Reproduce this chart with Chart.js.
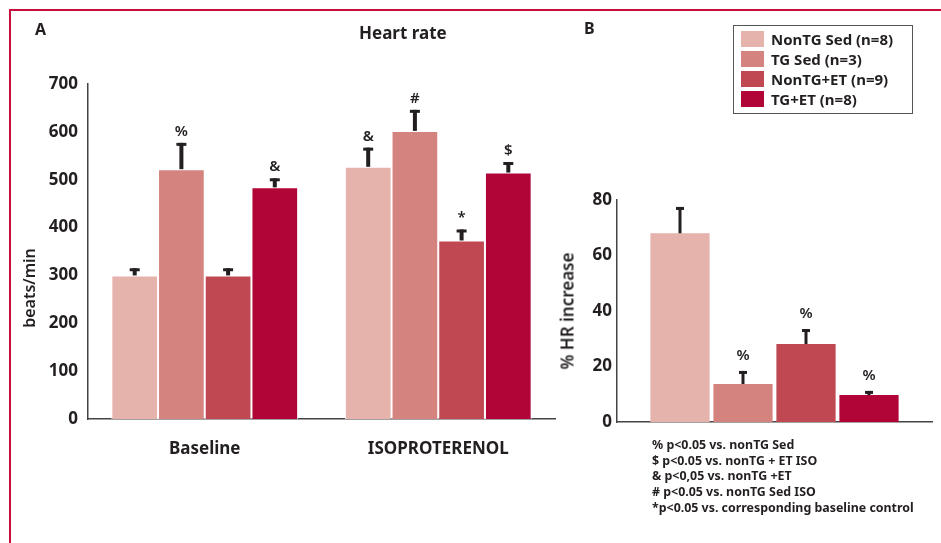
<!DOCTYPE html>
<html lang="en">
<head>
<meta charset="utf-8">
<title>Heart rate</title>
<script src="https://cdn.jsdelivr.net/npm/chart.js@4.4.1/dist/chart.umd.min.js"></script>
<style>
    body { margin: 0; background: #fff; font-family: "Noto Sans", "DejaVu Sans", sans-serif; color: #231f20; }
    #wrap { position: relative; width: 941px; height: 543px; overflow: hidden; }
    canvas { position: absolute; top: 0; }
    #chart-a { left: 0; }
    #chart-b { left: 560px; }
    .frame { position: absolute; background: #c8103e; }
    .lbl { position: absolute; font-weight: 700; white-space: nowrap; }
    .rot { position: absolute; white-space: nowrap; font-weight: 600; transform: translate(-50%, -50%) rotate(-90deg); }
    #legend { position: absolute; left: 733px; top: 25px; width: 178px; height: 87px; border: 1.5px solid #555; }
    #legend div { position: absolute; left: 7px; height: 16px; line-height: 16px; font-weight: 700; font-size: 15px; white-space: nowrap; }
    #legend span { display: inline-block; width: 23px; height: 16px; vertical-align: top; margin-right: 7px; }
    #notes { position: absolute; left: 652px; top: 437px; font-size: 12.4px; line-height: 15.7px; font-weight: 700; }
</style>
</head>
<body>
<div id="wrap">
    <div class="frame" style="left:9px; top:9px; width:932px; height:2px"></div>
    <div class="frame" style="left:9px; top:9px; width:2px; height:534px"></div>

    <canvas id="chart-a" width="560" height="543"></canvas>
    <canvas id="chart-b" width="381" height="543"></canvas>

    <div class="lbl" style="left:35px; top:18px; font-size:16px">A</div>
    <div class="lbl" style="left:584px; top:17px; font-size:16px">B</div>
    <div class="lbl" style="left:359px; top:21px; font-size:17px">Heart rate</div>
    <div class="rot" style="left:29px; top:288px; font-size:16px">beats/min</div>
    <div class="rot" style="left:567px; top:311px; font-size:17px">% HR increase</div>

    <div id="legend"></div>

    <div id="notes">
        % p&lt;0.05 vs. nonTG Sed<br>
        $ p&lt;0.05 vs. nonTG + ET ISO<br>
        &amp; p&lt;0,05 vs. nonTG +ET<br>
        # p&lt;0.05 vs. nonTG Sed ISO<br>
        *p&lt;0.05 vs. corresponding baseline control
    </div>
</div>

<script>
"use strict";

// grupper och färger
const groups = ['NonTG Sed (n=8)', 'TG Sed (n=3)', 'NonTG+ET (n=9)', 'TG+ET (n=8)'];
const colors = ['#e6b2ac', '#d5837f', '#c04852', '#b10538'];

// panel A, puls
const conditions = ['Baseline', 'ISOPROTERENOL'];
const hrBaseline = [300, 522, 300, 484];
const hrBaselineErr = [15, 55, 15, 19];
const hrIso = [527, 602, 373, 515];
const hrIsoErr = [40, 44, 23, 22];
const marksBaseline = ['', '%', '', '&'];
const marksIso = ['&', '#', '*', '$'];
const hrTicks = [0, 100, 200, 300, 400, 500, 600, 700];

// panel B, procentuell ökning
const pctIncrease = [68, 13.7, 28.1, 9.7];
const pctErr = [9.5, 4.7, 5.4, 1.5];
const pctMarks = ['', '%', '%', '%'];
const pctTicks = [0, 20, 40, 60, 80];

const ink = '#231f20';
const fontFam = '"Noto Sans", "DejaVu Sans", sans-serif';

// legend som html
const legendEl = document.getElementById('legend');
groups.forEach((g, i) => {
    const row = document.createElement('div');
    row.style.top = (5 + i * 20) + 'px';
    row.innerHTML = '<span style="background:' + colors[i] + '"></span>' + g;
    legendEl.appendChild(row);
});

// felstaplar (bara uppåt) och signifikanstecken
const errorBars = {
    id: 'errorBars',
    afterDatasetsDraw(chart, args, opts) {
        const ctx = chart.ctx;
        const yScale = chart.scales.y;
        chart.data.datasets.forEach((ds, i) => {
            const meta = chart.getDatasetMeta(i);
            meta.data.forEach((bar, j) => {
                const top = yScale.getPixelForValue(ds.data[j] + opts.errs[i][j]);
                ctx.save();
                ctx.strokeStyle = ink;
                ctx.lineWidth = opts.stem;
                ctx.beginPath();
                ctx.moveTo(bar.x, bar.y);
                ctx.lineTo(bar.x, top);
                ctx.stroke();
                ctx.lineWidth = 3;
                ctx.beginPath();
                ctx.moveTo(bar.x - opts.cap / 2, top + 1.5);
                ctx.lineTo(bar.x + opts.cap / 2, top + 1.5);
                ctx.stroke();
                const mark = opts.marks[i][j];
                if (mark) {
                    ctx.fillStyle = ink;
                    ctx.font = '600 15px ' + fontFam;
                    ctx.textAlign = 'center';
                    ctx.textBaseline = 'alphabetic';
                    ctx.fillText(mark, bar.x, top - opts.gap);
                }
                ctx.restore();
            });
        });
    }
};

function axisBorder() {
    return { display: true, color: '#444', width: 1.5 };
}

// panel A
new Chart(document.getElementById('chart-a'), {
    type: 'bar',
    data: {
        labels: conditions,
        datasets: groups.map((g, i) => ({
            label: g,
            data: [hrBaseline[i], hrIso[i]],
            backgroundColor: colors[i],
            borderColor: '#fff',
            borderWidth: 1,
            categoryPercentage: 0.8,
            barPercentage: 1
        }))
    },
    options: {
        responsive: false,
        animation: false,
        layout: { padding: { left: 0, right: 5, top: 84, bottom: 0 } },
        plugins: {
            legend: { display: false },
            tooltip: { enabled: false },
            errorBars: {
                errs: groups.map((g, i) => [hrBaselineErr[i], hrIsoErr[i]]),
                marks: groups.map((g, i) => [marksBaseline[i], marksIso[i]]),
                cap: 10, stem: 4, gap: 7
            }
        },
        scales: {
            x: {
                z: 1,
                grid: { display: false, drawTicks: false },
                border: axisBorder(),
                ticks: { color: ink, padding: 20, font: { family: fontFam, size: 17, weight: 'bold' } },
                afterFit: s => { s.height = 124; }
            },
            y: {
                min: 0,
                max: 700,
                grid: { display: false, drawTicks: false },
                border: axisBorder(),
                afterBuildTicks: s => { s.ticks = hrTicks.map(v => ({ value: v })); },
                ticks: { color: ink, padding: 10, font: { family: fontFam, size: 17, weight: 'bold' } },
                afterFit: s => { s.width = 88; }
            }
        }
    },
    plugins: [errorBars]
});

// panel B
new Chart(document.getElementById('chart-b'), {
    type: 'bar',
    data: {
        labels: [''],
        datasets: groups.map((g, i) => ({
            label: g,
            data: [pctIncrease[i]],
            backgroundColor: colors[i],
            categoryPercentage: 0.8,
            barPercentage: 0.94
        }))
    },
    options: {
        responsive: false,
        animation: false,
        layout: { padding: { left: 0, right: 9, top: 200, bottom: 0 } },
        plugins: {
            legend: { display: false },
            tooltip: { enabled: false },
            errorBars: {
                errs: groups.map((g, i) => [pctErr[i]]),
                marks: groups.map((g, i) => [pctMarks[i]]),
                cap: 8, stem: 3, gap: 11
            }
        },
        scales: {
            x: {
                z: 1,
                grid: { display: false, drawTicks: false },
                border: axisBorder(),
                ticks: { display: false },
                afterFit: s => { s.height = 121; }
            },
            y: {
                min: 0,
                max: 80,
                grid: { display: false, drawTicks: false },
                border: axisBorder(),
                afterBuildTicks: s => { s.ticks = pctTicks.map(v => ({ value: v })); },
                ticks: { color: ink, padding: 5, font: { family: fontFam, size: 17, weight: 'bold' } },
                afterFit: s => { s.width = 57; }
            }
        }
    },
    plugins: [errorBars]
});
</script>
</body>
</html>
